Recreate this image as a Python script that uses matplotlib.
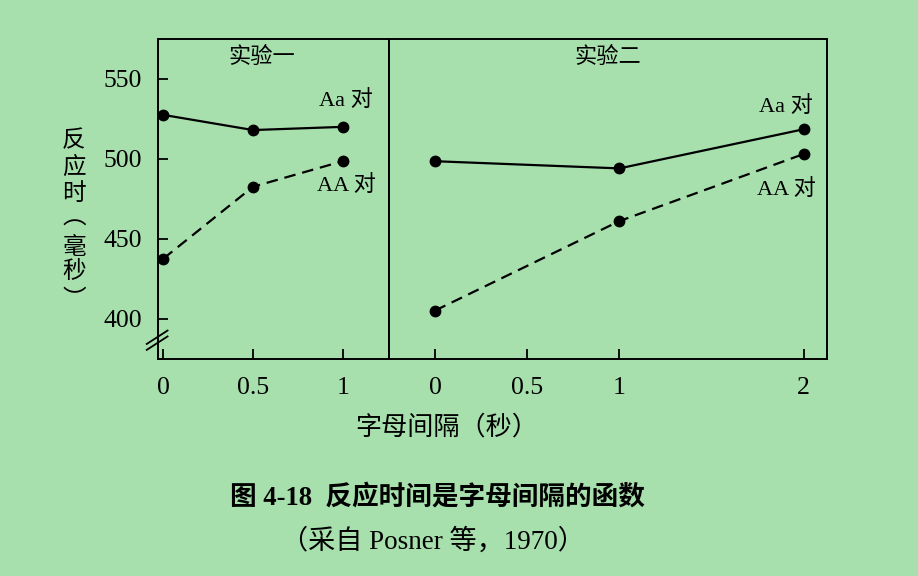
import matplotlib
matplotlib.use('Agg')
import matplotlib.pyplot as plt

# 字母间隔（秒）与反应时（毫秒）
gap_exp1 = [0, 0.5, 1]
Aa_exp1 = [527.5, 518, 520]
AA_exp1 = [437.5, 482.5, 498.5]

gap_exp2 = [0, 1, 2]
Aa_exp2 = [498.5, 494, 518.5]
AA_exp2 = [405, 461, 503]

ticks_exp1 = [0, 0.5, 1]
ticks_exp2 = [0, 0.5, 1, 2]
tick_labels_exp1 = ['0', '0.5', '1']
tick_labels_exp2 = ['0', '0.5', '1', '2']
y_ticks = [400, 450, 500, 550]

plt.rcParams['font.family'] = ['Liberation Serif', 'Noto Sans CJK SC']
plt.rcParams['axes.unicode_minus'] = False

BG = '#a7e0ad'
W, H = 918, 576

fig = plt.figure(figsize=(W / 100, H / 100), dpi=100, facecolor=BG)


def px_box(x0, x1, y_top, y_bot):
    return [x0 / W, 1 - y_bot / H, (x1 - x0) / W, (y_bot - y_top) / H]


ax1 = fig.add_axes(px_box(158.3, 389.3, 39, 359.3))
ax2 = fig.add_axes(px_box(389.3, 826.7, 39, 359.3))

for ax in (ax1, ax2):
    ax.set_facecolor(BG)
    for s in ax.spines.values():
        s.set_linewidth(1.4)
    ax.set_ylim(374.5, 575)
    ax.tick_params(direction='in', length=7.5, width=1.3, labelsize=18.5, pad=13)

line_kw = dict(color='black', lw=1.6, marker='o', markersize=7.5)

ax1.plot(gap_exp1, Aa_exp1, '-', **line_kw)
ax1.plot(gap_exp1, AA_exp1, '--', dashes=(5.2, 3.1), **line_kw)
ax2.plot(gap_exp2, Aa_exp2, '-', **line_kw)
ax2.plot(gap_exp2, AA_exp2, '--', dashes=(5.2, 3.1), **line_kw)

ax1.set_xlim(-0.028, 1.26)
ax2.set_xlim(-0.248, 2.125)

ax1.set_xticks(ticks_exp1, tick_labels_exp1)
ax2.set_xticks(ticks_exp2, tick_labels_exp2)
ax1.set_yticks(y_ticks)
ax1.tick_params(axis='y', pad=12)
ax2.set_yticks([])

# 纵轴断裂标记
yt = ax1.get_yaxis_transform()
for yc in (388.3, 384.6):
    ax1.plot([-0.05, 0.04], [yc - 4.2, yc + 4.2], color='black', lw=1.3,
             transform=yt, clip_on=False)

txt = dict(fontsize=16, ha='center', va='center')
ax1.text(0.448, 0.941, '实验一', transform=ax1.transAxes, **txt)
ax2.text(0.499, 0.941, '实验二', transform=ax2.transAxes, **txt)

ax1.text(1.02, 536.7, 'Aa 对', **txt)
ax1.text(1.02, 483.5, 'AA 对', **txt)
ax2.text(1.904, 532.5, 'Aa 对', **txt)
ax2.text(1.904, 481, 'AA 对', **txt)

# 纵轴标题（竖排，竖排括号）
ylabel_chars = ['反', '应', '时', '︵', '毫', '秒', '︶']
ylabel_y = [141, 167, 194, 218, 248, 272, 300]
for ch, yy in zip(ylabel_chars, ylabel_y):
    fig.text(74 / W, 1 - yy / H, ch, fontsize=17,
             family='Noto Sans CJK SC', ha='center', va='center')

fig.text(447 / W, 1 - 427 / H, '字母间隔（秒）', fontsize=18.8,
         ha='center', va='center')

fig.text(437 / W, 1 - 498 / H, '图 4-18  反应时间是字母间隔的函数',
         fontsize=19.2, fontweight='bold', ha='center', va='center')
fig.text(433 / W, 1 - 541 / H, '（采自 Posner 等，1970）', fontsize=19.5,
         ha='center', va='center')

fig.savefig('out.png', dpi=100, facecolor=BG)
